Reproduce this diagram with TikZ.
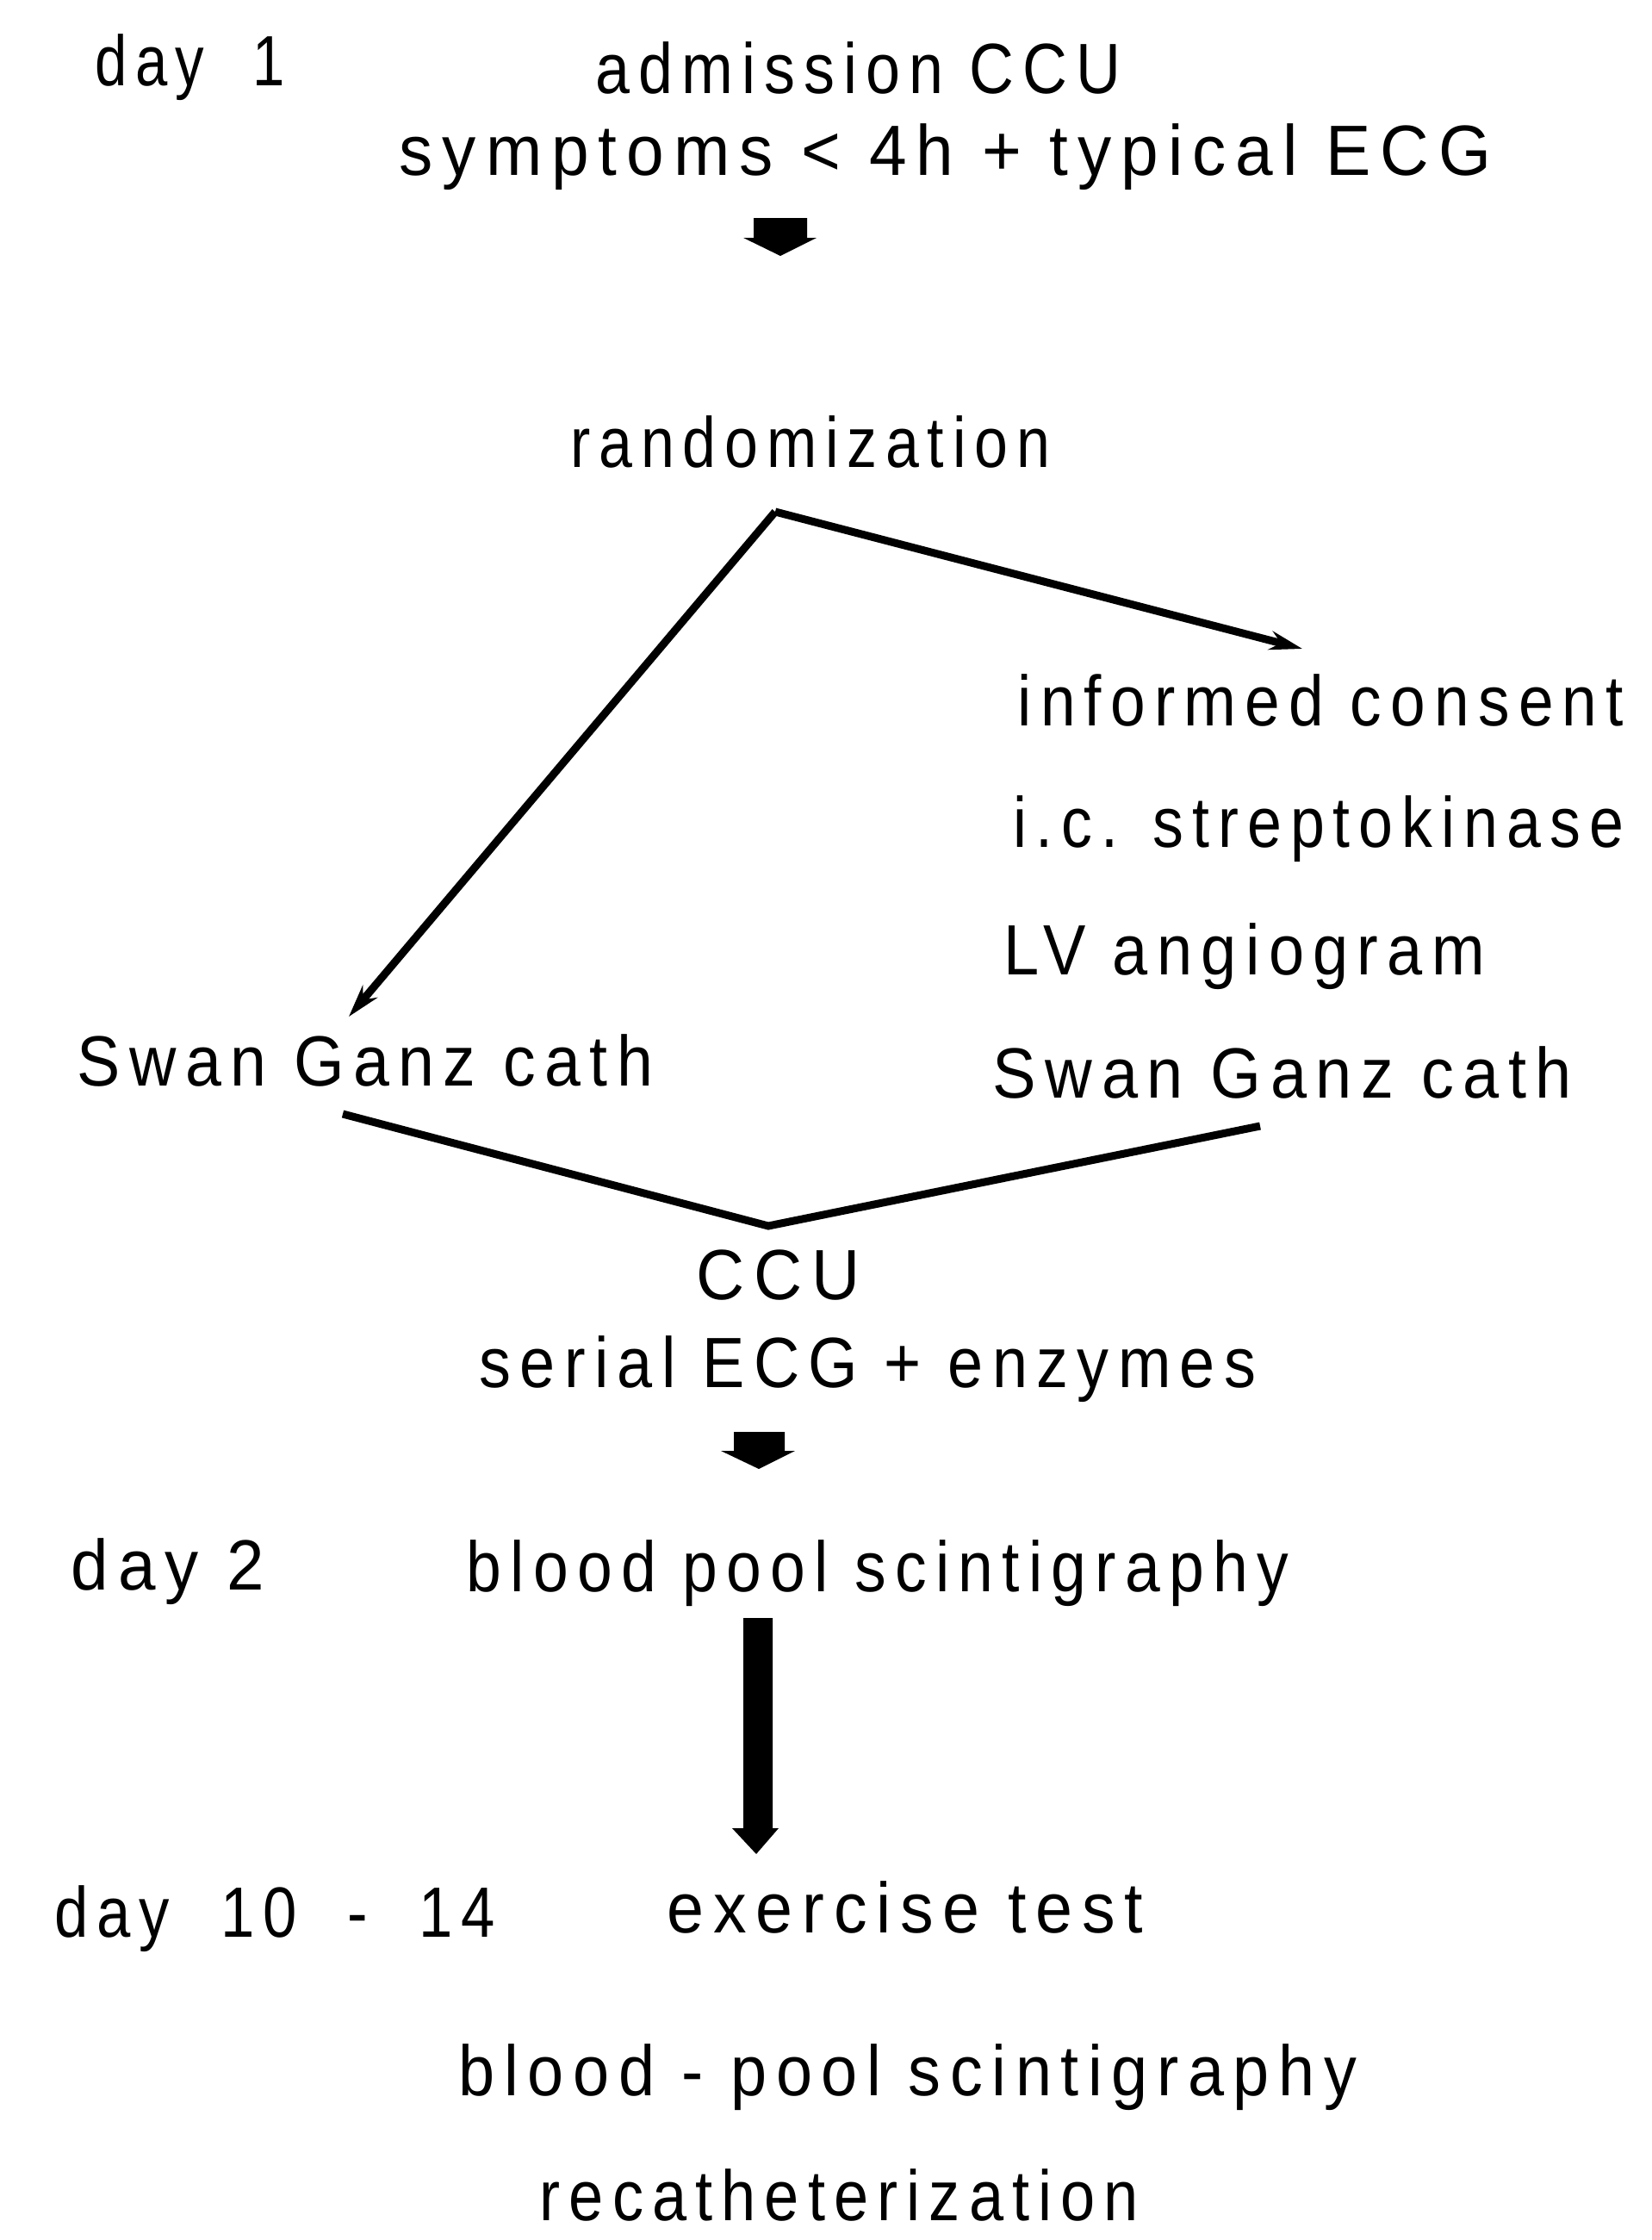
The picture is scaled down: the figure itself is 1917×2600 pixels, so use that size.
\documentclass[tikz,border=0pt]{standalone}
\usepackage{fontspec}
\setmainfont{Liberation Sans}[LetterSpace=14]
\usepackage{graphicx}
\usetikzlibrary{arrows.meta}
\newcommand{\fitw}[2]{\resizebox{#1}{\height}{#2}}
\tikzset{
  lbl/.style={anchor=base west, inner sep=0pt, font=\fontsize{23.5}{27}\selectfont},
  conn/.style={line width=0.09cm, line join=miter},
  tipped/.style={-{Stealth[length=0.38cm,width=0.22cm]}},
  blk/.style={fill=black, draw=none}
}
\begin{document}
\begin{tikzpicture}[x=0.01cm, y=-0.01cm]
\useasboundingbox (0,0) rectangle (1917,2600);
% texts
\node[lbl] (day1) at (110,100) {\fitw{2.20cm}{day \ 1}};
\node[lbl] (adm) at (691,108) {\fitw{6.09cm}{admission CCU}};
\node[lbl] (sym) at (463,203) {\fitw{12.67cm}{symptoms < 4h + typical ECG}};
\node[lbl] (rand) at (662,542) {\fitw{5.56cm}{randomization}};
\node[lbl] (inf) at (1181,842) {\fitw{7.03cm}{informed consent}};
\node[lbl] (ic) at (1176,983) {\fitw{7.08cm}{i.c. streptokinase}};
\node[lbl] (lv) at (1165,1131) {\fitw{5.58cm}{LV angiogram}};
\node[lbl] (swr) at (1152,1274) {\fitw{6.72cm}{Swan Ganz cath}};
\node[lbl] (swl) at (89,1260) {\fitw{6.68cm}{Swan Ganz cath}};
\node[lbl] (ccu) at (808,1508) {\fitw{1.90cm}{CCU}};
\node[lbl] (serial) at (556,1610) {\fitw{9.01cm}{serial ECG + enzymes}};
\node[lbl] (day2) at (82,1845) {\fitw{2.24cm}{day 2}};
\node[lbl] (bps) at (541,1847) {\fitw{9.54cm}{blood pool scintigraphy}};
\node[lbl] (day10) at (63,2248) {\fitw{5.11cm}{day \ 10 \ - \ 14}};
\node[lbl] (ex) at (774,2243) {\fitw{5.52cm}{exercise test}};
\node[lbl] (bps2) at (532,2432) {\fitw{10.42cm}{blood - pool scintigraphy}};
\node[lbl] (recath) at (626,2577) {\fitw{6.95cm}{recatheterization}};
% connector points
\coordinate (apex) at (900,594);
\coordinate (tipR) at (1512,753);
\coordinate (tipL) at (405,1180);
\coordinate (vL) at (398,1293);
\coordinate (vB) at (892,1423);
\coordinate (vR) at (1463,1307);
\draw[conn,tipped] (apex) -- (tipR);
\draw[conn,tipped] (apex) -- (tipL);
\draw[conn] (vL) -- (vB) -- (vR);
% block arrows
\fill[blk] (875,253) -- (937,253) -- (937,276) -- (948,276) -- (906,297) -- (863,276) -- (875,276) -- cycle;
\fill[blk] (852,1662) -- (911,1662) -- (911,1684) -- (923,1684) -- (881,1705) -- (837,1684) -- (852,1684) -- cycle;
\fill[blk] (863,1878) -- (897,1878) -- (897,2122) -- (904,2122) -- (878,2152) -- (850,2122) -- (863,2122) -- cycle;
\end{tikzpicture}
\end{document}
